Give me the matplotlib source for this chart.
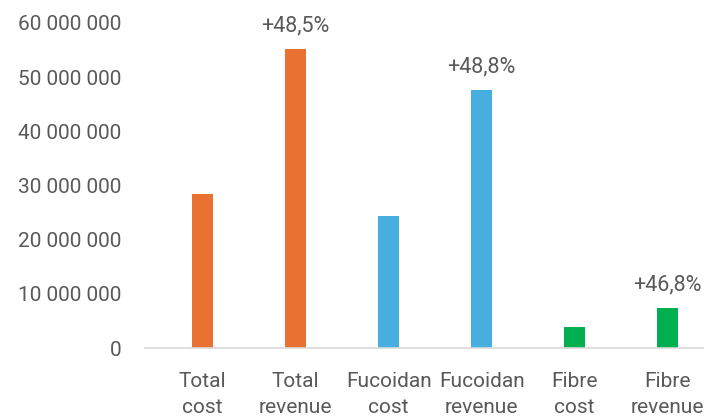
import matplotlib
matplotlib.use('agg')
import matplotlib.pyplot as plt
from matplotlib.ticker import FuncFormatter

categories = ['Total\ncost', 'Total\nrevenue', 'Fucoidan\ncost', 'Fucoidan\nrevenue',
              'Fibre\ncost', 'Fibre\nrevenue']
values = [28.4e6, 55.2e6, 24.4e6, 47.6e6, 3.9e6, 7.4e6]
bar_colors = ['#E97132', '#E97132', '#47AFE0', '#47AFE0', '#00B050', '#00B050']
margins = {1: '+48,5%', 3: '+48,8%', 5: '+46,8%'}

plt.rcParams['font.family'] = ['Roboto', 'DejaVu Sans']
grey = '#595959'

fig = plt.figure(figsize=(7.21, 4.19), dpi=100)
ax = fig.add_axes([145/721, 1 - 348/419, (703 - 145)/721, (348 - 23)/419])

x = range(len(categories))
ax.bar(x, values, width=0.22, color=bar_colors)
for i, lab in margins.items():
    ax.annotate(lab, (i, values[i]), xytext=(0, 9), textcoords='offset points',
                ha='center', va='bottom', fontsize=15.5, color=grey)

ax.set_xlim(-0.62, 5.38)
ax.set_ylim(0, 60e6)
ax.set_yticks(range(0, 60000001, 10000000))
ax.yaxis.set_major_formatter(FuncFormatter(lambda v, p: f'{int(v):,}'.replace(',', ' ')))
ax.set_xticks(list(x))
ax.set_xticklabels(categories, linespacing=1.5)
ax.tick_params(axis='both', length=0, labelsize=15, colors=grey)
ax.tick_params(axis='x', pad=17)
ax.tick_params(axis='y', pad=17)
for s in ['top', 'right', 'left']:
    ax.spines[s].set_visible(False)
ax.spines['bottom'].set_color('#D9D9D9')
ax.spines['bottom'].set_linewidth(1.2)

plt.savefig('out.png', dpi=100)
